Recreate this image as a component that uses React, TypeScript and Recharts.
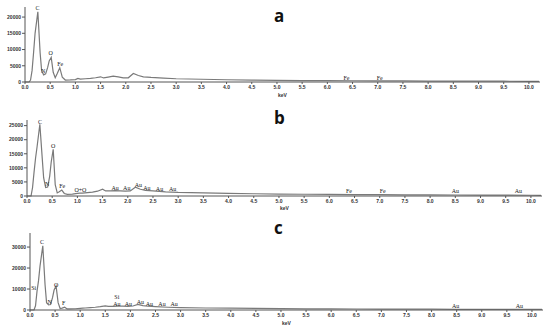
import { LineChart, Line, XAxis, YAxis, ReferenceDot } from "recharts";

// energy grid (keV) shared by the three spectra
const KEV = [
  0, 0.08, 0.11, 0.14, 0.17, 0.2, 0.255, 0.3, 0.33, 0.37, 0.41, 0.45, 0.48, 0.52, 0.56, 0.6, 0.64, 0.69, 0.74, 0.8,
  0.9, 1.0, 1.05, 1.1, 1.2, 1.3, 1.4, 1.5, 1.56, 1.65, 1.75, 1.85, 1.95, 2.05, 2.15, 2.25, 2.35, 2.5, 2.75, 3.0,
  3.5, 4.0, 4.5, 5.0, 5.5, 6.0, 6.5, 7.0, 7.5, 8.0, 8.5, 9.0, 9.5, 10.0, 10.2,
];

const COUNTS_A = [
  0, 0, 600, 3500, 9000, 15000, 21600, 9000, 3500, 2200, 2500, 4500, 6500, 7600, 3000, 1300, 2600, 4400, 1500, 600,
  650, 750, 1100, 900, 1000, 1100, 1300, 1600, 1250, 1500, 1800, 1600, 1300, 1300, 2600, 2000, 1600, 1400, 1200, 1000,
  850, 700, 600, 500, 450, 400, 380, 350, 320, 300, 280, 260, 240, 220, 200,
];

const COUNTS_B = [
  0, 0, 3000, 8500, 13500, 17500, 25500, 14000, 6500, 3000, 3200, 7000, 12000, 16600, 4000, 1100, 1500, 2100, 900, 600,
  700, 900, 1000, 1000, 1200, 1400, 1700, 2400, 1800, 1800, 1900, 1800, 1700, 1800, 3100, 2400, 2000, 1800, 1500, 1300,
  1100, 950, 800, 700, 620, 550, 500, 460, 420, 380, 350, 320, 290, 260, 250,
];

const COUNTS_C = [
  0, 0, 2000, 9000, 14000, 21000, 30600, 12000, 3500, 2400, 2600, 6000, 9500, 11400, 3500, 700, 900, 1300, 500, 500,
  600, 800, 900, 950, 1100, 1300, 1600, 2000, 1700, 1700, 1800, 1800, 1700, 1900, 2700, 2100, 1800, 1600, 1300, 1100,
  950, 850, 750, 650, 580, 520, 470, 430, 400, 370, 340, 310, 290, 270, 260,
];

const X_TICKS = [0, 0.5, 1, 1.5, 2, 2.5, 3, 3.5, 4, 4.5, 5, 5.5, 6, 6.5, 7, 7.5, 8, 8.5, 9, 9.5, 10];
const Y_TICKS_A = [0, 5000, 10000, 15000, 20000];
const Y_TICKS_B = [0, 5000, 10000, 15000, 20000, 25000];
const Y_TICKS_C = [0, 10000, 20000, 30000];

// peak labels: [keV, counts, text]
const LABELS_A: [number, number, string][] = [
  [0.25, 22700, "C"], [0.36, 3400, "N"], [0.51, 8950, "O"], [0.7, 5550, "Fe"], [6.38, 1330, "Fe"], [7.04, 1230, "Fe"],
];
const LABELS_B: [number, number, string][] = [
  [0.26, 26400, "C"], [0.4, 4400, "N"], [0.52, 17850, "O"], [0.7, 3460, "Fe"], [1.06, 2300, "O+O"],
  [1.75, 3000, "Au"], [1.98, 3000, "Au"], [2.21, 3800, "Au"], [2.38, 3000, "Au"], [2.63, 2640, "Au"], [2.89, 2640, "Au"],
  [6.39, 1680, "Fe"], [7.06, 1680, "Fe"], [8.5, 1680, "Au"], [9.75, 1680, "Au"],
];
const LABELS_C: [number, number, string][] = [
  [0.24, 32500, "C"], [0.075, 10600, "Si"], [0.39, 3670, "N"], [0.52, 11900, "O"], [0.67, 3200, "F"],
  [1.73, 6000, "Si"], [1.73, 2700, "Au"], [1.96, 2700, "Au"], [2.2, 3670, "Au"], [2.38, 2700, "Au"], [2.63, 2700, "Au"],
  [2.87, 2700, "Au"], [8.48, 1900, "Au"], [9.75, 1900, "Au"],
];

const tickStyle = { fontSize: 5, fill: "#333", fontWeight: 700, fontFamily: "Liberation Sans" };

// plain dark text centred on the reference dot
const peakLabel = (text: string) => (props: any) => {
  const vb = props.viewBox || {};
  const cx = vb.x + (vb.width || 0) / 2;
  const cy = vb.y + (vb.height || 0) / 2;
  return (
    <text
      x={cx}
      y={cy}
      textAnchor="middle"
      dominantBaseline="central"
      fontSize={6}
      fontFamily="Liberation Serif"
      fill="#222"
    >
      {text}
    </text>
  );
};

interface PanelProps {
  counts: number[];
  labels: [number, number, string][];
  yTicks: number[];
  yMax: number;
  top: number;
  height: number;
  marginTop: number;
  yWidth: number;
  marginRight: number;
  xHeight: number;
  kevOffset: number;
  letter: string;
  letterTop: number;
}

function Panel(p: PanelProps) {
  const data = KEV.map((k, i) => ({ kev: k, counts: p.counts[i] }));
  return (
    <div style={{ position: "absolute", left: 0, top: p.top }}>
      <LineChart
        width={550}
        height={p.height}
        data={data}
        margin={{ top: p.marginTop, right: p.marginRight, left: 0, bottom: 0 }}
      >
        <XAxis
          dataKey="kev"
          type="number"
          domain={[0, 10.22]}
          ticks={X_TICKS}
          tickFormatter={(v: number) => v.toFixed(1)}
          tick={tickStyle}
          tickSize={2}
          tickMargin={1}
          height={p.xHeight}
          stroke="#555"
          interval={0}
          label={{
            value: "keV",
            position: "insideBottom",
            offset: p.kevOffset,
            style: { fontSize: 5, fill: "#333", fontWeight: 700, fontFamily: "Liberation Sans" },
          }}
        />
        <YAxis
          type="number"
          domain={[0, p.yMax]}
          ticks={p.yTicks}
          tick={tickStyle}
          tickSize={3}
          tickMargin={1}
          width={p.yWidth}
          stroke="#555"
          interval={0}
        />
        <Line
          type="linear"
          dataKey="counts"
          stroke="#7a7a7a"
          strokeWidth={1.2}
          dot={false}
          isAnimationActive={false}
        />
        {p.labels.map(([x, y, t], i) => (
          <ReferenceDot key={i} x={x} y={y} r={0} stroke="none" label={{ content: peakLabel(t) }} />
        ))}
      </LineChart>
      <div
        style={{
          position: "absolute",
          left: 274,
          top: p.letterTop,
          fontFamily: "Open Sans",
          fontWeight: 700,
          fontSize: 17,
          lineHeight: "20px",
          color: "#111",
        }}
      >
        {p.letter}
      </div>
    </div>
  );
}

export default function App() {
  return (
    <div style={{ position: "absolute", left: 0, top: 0, width: 550, height: 331, background: "#fff" }}>
      <Panel
        counts={COUNTS_A}
        labels={LABELS_A}
        yTicks={Y_TICKS_A}
        yMax={23100}
        top={0}
        height={110}
        marginTop={7}
        yWidth={25}
        marginRight={10}
        xHeight={28}
        kevOffset={13}
        letter="a"
        letterTop={6}
      />
      <Panel
        counts={COUNTS_B}
        labels={LABELS_B}
        yTicks={Y_TICKS_B}
        yMax={27000}
        top={110}
        height={110}
        marginTop={10}
        yWidth={27}
        marginRight={8}
        xHeight={24}
        kevOffset={10}
        letter="b"
        letterTop={-2}
      />
      <Panel
        counts={COUNTS_C}
        labels={LABELS_C}
        yTicks={Y_TICKS_C}
        yMax={36700}
        top={220}
        height={111}
        marginTop={13}
        yWidth={30}
        marginRight={7}
        xHeight={21}
        kevOffset={6}
        letter="c"
        letterTop={-2}
      />
    </div>
  );
}
